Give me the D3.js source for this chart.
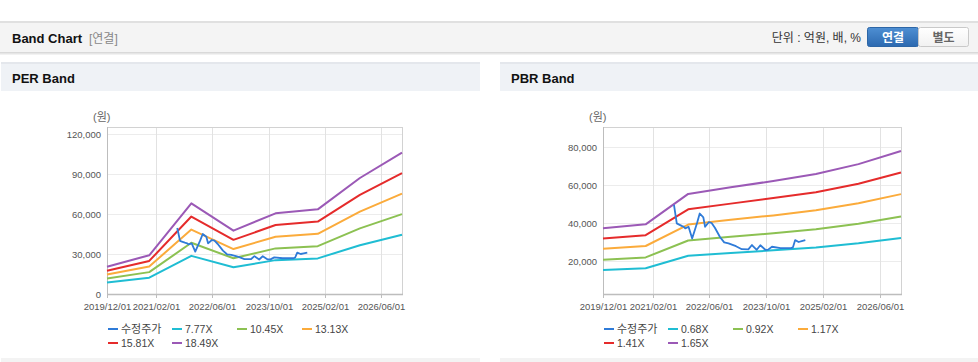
<!DOCTYPE html>
<html>
<head>
<meta charset="UTF-8">
<title>Band Chart</title>
<style>
  body { margin: 0; background: #fff; }
  svg { display: block; font-family: "Liberation Sans", Arial, "Noto Sans CJK KR", sans-serif; }
</style>
</head>
<body>
<svg id="page" width="978" height="362"></svg>

<script src="https://d3js.org/d3.v7.min.js"></script>
<script>

// ---- data ----
const bandDates = ["2019/12/01","2020/12/01","2021/12/01","2022/12/01","2023/12/01","2024/12/01","2025/12/01","2026/12/01"];

const perLabels = ["7.77X","10.45X","13.13X","15.81X","18.49X"];
const per777  = [8600, 12200, 28600, 20000, 25400, 26700, 36600, 44500];
const per1045 = [11600, 16400, 38400, 26800, 34200, 35900, 49200, 59900];
const per1313 = [14600, 20600, 48300, 33700, 43000, 45100, 61800, 75300];
const per1581 = [17500, 24800, 58100, 40600, 51700, 54300, 74400, 90600];
const per1849 = [20500, 29000, 68000, 47500, 60500, 63500, 87000, 106000];

const pbrLabels = ["0.68X","0.92X","1.17X","1.41X","1.65X"];
const pbr068 = [15300, 16200, 22800, 24200, 25600, 27100, 29300, 32100];
const pbr092 = [20700, 21900, 30800, 32800, 34600, 36700, 39600, 43400];
const pbr117 = [26400, 27900, 39200, 41700, 44000, 46700, 50400, 55200];
const pbr141 = [31800, 33600, 47200, 50200, 53100, 56200, 60700, 66600];
const pbr165 = [37200, 39300, 55300, 58800, 62100, 65800, 71000, 77900];

const priceDates = ["2021/08/01","2021/08/25","2021/09/10","2021/10/06","2021/10/25","2021/11/06","2021/12/04",
  "2022/01/04","2022/02/15","2022/03/10","2022/04/10","2022/04/25","2022/05/28","2022/06/20","2022/07/18",
  "2022/09/01","2022/10/06","2022/11/12","2023/01/15","2023/03/06","2023/05/01","2023/06/01","2023/07/12",
  "2023/08/12","2023/09/24","2023/10/18","2023/11/20","2024/02/01","2024/05/01","2024/05/18","2024/06/06",
  "2024/07/06","2024/08/01","2024/09/01"];
const price = [49500, 39800, 39300, 38500, 38000, 37200, 38000,
  31800, 40000, 45000, 43000, 38000, 40500, 40000, 37500,
  32500, 29800, 29300, 27800, 26200, 26100, 28400, 25900,
  28300, 25900, 26000, 27500, 26800, 26800, 27200, 31000,
  30000, 30500, 31000];

const xTickLabels = ["2019/12/01","2021/02/01","2022/06/01","2023/10/01","2025/02/01","2026/06/01"];
const perYTicks = [0, 30000, 60000, 90000, 120000];
const pbrYTicks = [20000, 40000, 60000, 80000];

const priceLabel = "수정주가";
const bandColors = ["#1fbdd3", "#8cc152", "#fbab3b", "#e52b2b", "#9b59b6"];
const priceColor = "#2f7bd8";

// ---- page chrome ----
let parseDate = d3.timeParse("%Y/%m/%d");
let svg = d3.select("#page");

let defs = svg.append("defs");
let g1 = defs.append("linearGradient").attr("id", "btnOn").attr("x1", 0).attr("y1", 0).attr("x2", 0).attr("y2", 1);
g1.append("stop").attr("offset", "0%").attr("stop-color", "#4e8fd3");
g1.append("stop").attr("offset", "100%").attr("stop-color", "#2c69b0");
let g2 = defs.append("linearGradient").attr("id", "btnOff").attr("x1", 0).attr("y1", 0).attr("x2", 0).attr("y2", 1);
g2.append("stop").attr("offset", "0%").attr("stop-color", "#ffffff");
g2.append("stop").attr("offset", "100%").attr("stop-color", "#f1f1f1");

// top header bar
svg.append("rect").attr("x", 0).attr("y", 21).attr("width", 978).attr("height", 2).attr("fill", "#e0e0e0");
svg.append("rect").attr("x", 0).attr("y", 23).attr("width", 978).attr("height", 29).attr("fill", "#f4f4f4");
[["#d9d9d9", 52], ["#e6e6e6", 53], ["#f2f2f2", 54]].forEach(s => {
  svg.append("rect").attr("x", 0).attr("y", s[1]).attr("width", 978).attr("height", 1).attr("fill", s[0]);
});
svg.append("text").attr("x", 12).attr("y", 42.5).attr("font-size", 13).attr("font-weight", "bold")
  .attr("fill", "#111").text("Band Chart");
svg.append("text").attr("x", 89).attr("y", 42.5).attr("font-size", 12).attr("fill", "#888").text("[연결]");
svg.append("text").attr("x", 861).attr("y", 42).attr("font-size", 12).attr("text-anchor", "end")
  .attr("fill", "#333").text("단위 : 억원, 배, %");

svg.append("rect").attr("x", 867.5).attr("y", 27.5).attr("width", 51).attr("height", 19).attr("rx", 2)
  .attr("fill", "url(#btnOn)").attr("stroke", "#2d66a6");
svg.append("rect").attr("x", 918.5).attr("y", 27.5).attr("width", 50).attr("height", 19).attr("rx", 2)
  .attr("fill", "url(#btnOff)").attr("stroke", "#c9c9c9");
svg.append("text").attr("x", 893).attr("y", 41.5).attr("text-anchor", "middle").attr("font-size", 12)
  .attr("font-weight", "bold").attr("fill", "#fff").text("연결");
svg.append("text").attr("x", 943.5).attr("y", 41.5).attr("text-anchor", "middle").attr("font-size", 12)
  .attr("font-weight", "bold").attr("fill", "#666").text("별도");

// ---- one band chart ----
function drawChart(cfg) {
  let root = svg.append("g");

  // panel title strip
  root.append("rect").attr("x", cfg.panelX).attr("y", 62).attr("width", cfg.panelW).attr("height", 2).attr("fill", "#e4e7ec");
  root.append("rect").attr("x", cfg.panelX).attr("y", 64).attr("width", cfg.panelW).attr("height", 27).attr("fill", "#eff2f6");
  root.append("text").attr("x", cfg.panelX + 11).attr("y", 82.5).attr("font-size", 13).attr("font-weight", "bold")
    .attr("fill", "#111").text(cfg.title);
  root.append("rect").attr("x", cfg.panelX).attr("y", 358).attr("width", cfg.panelW).attr("height", 4).attr("fill", "#f3f3f3");

  let x = d3.scaleTime()
    .domain([parseDate("2019/12/01"), parseDate("2026/12/01")])
    .range([cfg.left, cfg.right]);
  let y = d3.scaleLinear().domain(cfg.yDomain).range(cfg.yRange);

  // grid
  root.append("g").selectAll("line").data(cfg.yTicks).enter().append("line")
    .attr("x1", cfg.left).attr("x2", cfg.right)
    .attr("y1", d => Math.round(y(d)) + 0.5).attr("y2", d => Math.round(y(d)) + 0.5)
    .attr("stroke", "#ececec");
  root.append("g").selectAll("line").data(xTickLabels.slice(1)).enter().append("line")
    .attr("x1", d => Math.round(x(parseDate(d))) + 0.5).attr("x2", d => Math.round(x(parseDate(d))) + 0.5)
    .attr("y1", cfg.top).attr("y2", cfg.bottom)
    .attr("stroke", "#e2e2e2");

  // frame
  root.append("rect").attr("x", cfg.left + 0.5).attr("y", cfg.top + 0.5)
    .attr("width", cfg.right - cfg.left).attr("height", cfg.bottom - cfg.top)
    .attr("fill", "none").attr("stroke", "#d2d2d2");
  root.append("line").attr("x1", cfg.left + 0.5).attr("x2", cfg.left + 0.5).attr("y1", cfg.top).attr("y2", cfg.bottom + 1)
    .attr("stroke", "#bdbdbd");
  root.append("line").attr("x1", cfg.left).attr("x2", cfg.right + 1).attr("y1", cfg.bottom + 0.5).attr("y2", cfg.bottom + 0.5)
    .attr("stroke", "#bdbdbd").attr("stroke-width", 1.5);

  // x ticks + labels
  let xt = root.append("g").selectAll("g").data(xTickLabels).enter().append("g")
    .attr("transform", d => "translate(" + (Math.round(x(parseDate(d))) + 0.5) + ",0)");
  xt.append("line").attr("y1", cfg.bottom).attr("y2", cfg.bottom + 4).attr("stroke", "#bdbdbd");
  xt.append("text").attr("y", cfg.bottom + 16).attr("text-anchor", "middle").attr("font-size", 9.5)
    .attr("fill", "#555").text(d => d);

  // y labels
  root.append("g").selectAll("text").data(cfg.yTicks).enter().append("text")
    .attr("x", cfg.left - 6).attr("y", d => y(d) + 3.5).attr("text-anchor", "end")
    .attr("font-size", 9.5).attr("fill", "#555").text(d3.format(","));
  root.append("text").attr("x", cfg.left - 14).attr("y", 121).attr("font-size", 11)
    .attr("fill", "#666").text("(원)");

  // lines
  let line = d3.line().x(d => x(d[0])).y(d => y(d[1]));
  cfg.bands.forEach((vals, i) => {
    let pts = bandDates.map((d, j) => [parseDate(d), vals[j]]);
    root.append("path").attr("d", line(pts)).attr("fill", "none")
      .attr("stroke", bandColors[i]).attr("stroke-width", 2).attr("stroke-linejoin", "round");
  });
  let pp = priceDates.map((d, j) => [parseDate(d), price[j]]);
  root.append("path").attr("d", line(pp)).attr("fill", "none")
    .attr("stroke", priceColor).attr("stroke-width", 1.8).attr("stroke-linejoin", "round");

  // legend
  let items = [{ name: priceLabel, color: priceColor }]
    .concat(cfg.labels.map((l, i) => ({ name: l, color: bandColors[i] })));
  let colX = [0, 64, 129, 194];
  items.forEach((it, i) => {
    let lx = cfg.left + 1 + colX[i % 4];
    let ly = i < 4 ? 329 : 343;
    root.append("line").attr("x1", lx).attr("x2", lx + 10).attr("y1", ly).attr("y2", ly)
      .attr("stroke", it.color).attr("stroke-width", 2);
    root.append("text").attr("x", lx + 13).attr("y", ly + 4).attr("font-size", i == 0 ? 11 : 10.5)
      .attr("fill", "#444").text(it.name);
  });
}

drawChart({
  title: "PER Band", panelX: 1, panelW: 479,
  left: 107, right: 402, top: 127, bottom: 294,
  yDomain: [0, 120000], yRange: [294, 134], yTicks: perYTicks,
  bands: [per777, per1045, per1313, per1581, per1849], labels: perLabels
});
drawChart({
  title: "PBR Band", panelX: 500, panelW: 478,
  left: 603, right: 901, top: 127, bottom: 294,
  yDomain: [20000, 80000], yRange: [261, 147], yTicks: pbrYTicks,
  bands: [pbr068, pbr092, pbr117, pbr141, pbr165], labels: pbrLabels
});

</script>
</body>
</html>
